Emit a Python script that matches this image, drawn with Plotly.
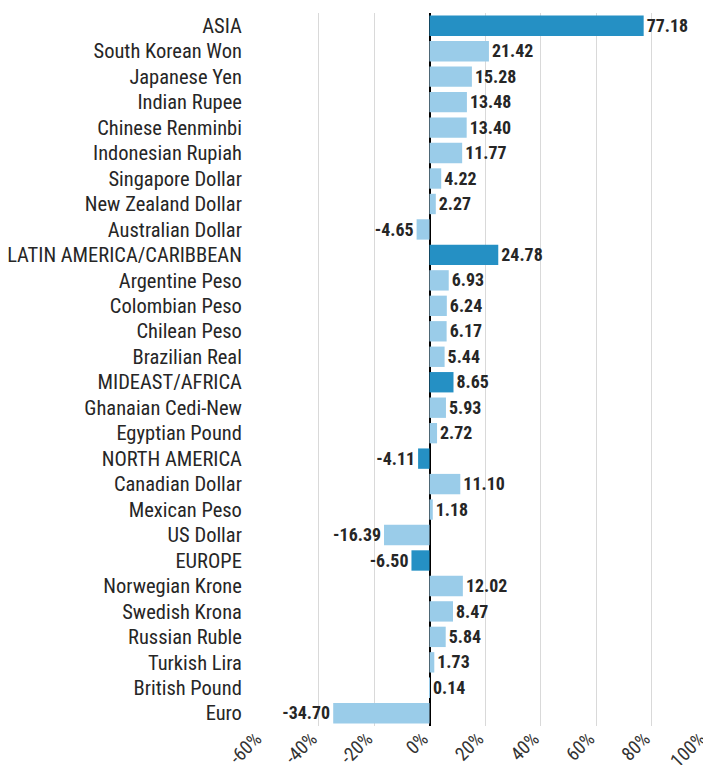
import plotly.graph_objects as go

categories = ["ASIA", "South Korean Won", "Japanese Yen", "Indian Rupee", "Chinese Renminbi",
              "Indonesian Rupiah", "Singapore Dollar", "New Zealand Dollar", "Australian Dollar",
              "LATIN AMERICA/CARIBBEAN", "Argentine Peso", "Colombian Peso", "Chilean Peso",
              "Brazilian Real", "MIDEAST/AFRICA", "Ghanaian Cedi-New", "Egyptian Pound",
              "NORTH AMERICA", "Canadian Dollar", "Mexican Peso", "US Dollar", "EUROPE",
              "Norwegian Krone", "Swedish Krona", "Russian Ruble", "Turkish Lira",
              "British Pound", "Euro"]
values = [77.18, 21.42, 15.28, 13.48, 13.40, 11.77, 4.22, 2.27, -4.65,
          24.78, 6.93, 6.24, 6.17, 5.44, 8.65, 5.93, 2.72,
          -4.11, 11.10, 1.18, -16.39, -6.50,
          12.02, 8.47, 5.84, 1.73, 0.14, -34.70]
regions = {"ASIA", "LATIN AMERICA/CARIBBEAN", "MIDEAST/AFRICA", "NORTH AMERICA", "EUROPE"}
tick_vals = [-60, -40, -20, 0, 20, 40, 60, 80, 100]
tick_text = ["-60%", "-40%", "-20%", "0%", "20%", "40%", "60%", "80%", "100%"]

DARK = "#2590C4"
LIGHT = "#9ACCE9"
colors = [DARK if c in regions else LIGHT for c in categories]

NARROW = "Liberation Sans Narrow, Arial Narrow, Roboto Condensed, Liberation Sans, Arial, sans-serif"

fig = go.Figure(go.Bar(
    x=values, y=categories, orientation="h",
    marker=dict(color=colors, line=dict(width=0)),
    width=0.8,
    text=[f"<b>{v:.2f}</b>" for v in values],
    textposition="outside",
    textfont=dict(family=NARROW, size=22, color="#262626"),
    cliponaxis=False,
))

fig.update_layout(
    width=703, height=757,
    margin=dict(l=255, r=4, t=5, b=39),
    paper_bgcolor="white", plot_bgcolor="white",
    showlegend=False,
    bargap=0.2,
    xaxis=dict(range=[-60, 100], tickvals=tick_vals, ticktext=tick_text,
               tickangle=-45, showgrid=True, gridcolor="#D9D9D9", gridwidth=1,
               zeroline=True, zerolinecolor="#000000", zerolinewidth=1.5,
               tickfont=dict(family=NARROW, size=19, color="#333333"),
               ticklabeloverflow="allow", ticklabelshift=-7, ticklabelstandoff=-3,
               showline=False, automargin=False, fixedrange=True),
    yaxis=dict(autorange="reversed", tickfont=dict(family=NARROW, size=20.5, color="#262626"),
               ticks="outside", ticklen=16, tickcolor="rgba(0,0,0,0)",
               showgrid=False, showline=False, automargin=False),
)

fig.write_html("out.html")
